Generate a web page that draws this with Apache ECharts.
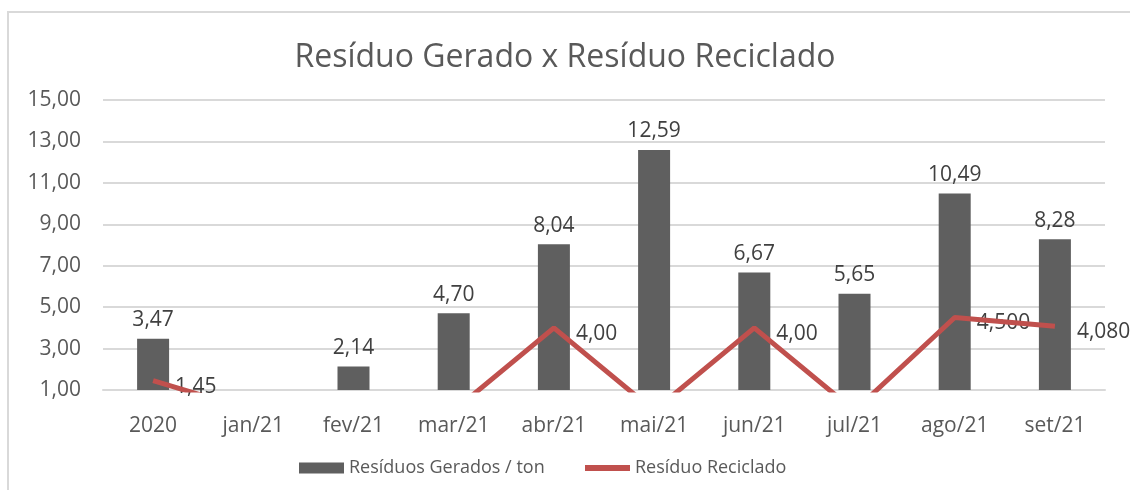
<!DOCTYPE html>
<html>
<head>
<meta charset="utf-8">
<script src="https://cdn.jsdelivr.net/npm/echarts@6/dist/echarts.min.js"></script>
<style>
  html, body { margin: 0; padding: 0; background: #fff; }
  #chart { width: 1130px; height: 490px; }
</style>
</head>
<body>
<div id="chart"></div>
<script>
// categorias (eixo x)
const categories = ['2020', 'jan/21', 'fev/21', 'mar/21', 'abr/21', 'mai/21', 'jun/21', 'jul/21', 'ago/21', 'set/21'];
// resíduos gerados (ton)
const gerados = [3.47, 0.85, 2.14, 4.70, 8.04, 12.59, 6.67, 5.65, 10.49, 8.28];
const geradosLabels = ['3,47', '', '2,14', '4,70', '8,04', '12,59', '6,67', '5,65', '10,49', '8,28'];
// resíduo reciclado
const reciclado = [1.45, 0, 0, 0, 4.00, 0, 4.00, 0, 4.50, 4.08];
const recicladoLabels = ['1,45', '', '', '', '4,00', '', '4,00', '', '4,500', '4,080'];
// eixo y
const yMin = 1, yMax = 15, yStep = 2;

const FONT = '"Open Sans", "Noto Sans", sans-serif';
const GRAY = '#5f5f5f';
const RED = '#c0504d';
const chart = echarts.init(document.getElementById('chart'));

const legendText = { fontFamily: FONT, fontSize: 18, color: '#595959' };

const option = {
  animation: false,
  backgroundColor: '#fff',
  textStyle: { fontFamily: FONT },
  title: {
    text: 'Resíduo Gerado x Resíduo Reciclado',
    left: 'center',
    top: 37,
    textStyle: { fontFamily: FONT, fontSize: 32, fontWeight: 'normal', color: '#595959' }
  },
  graphic: [{
    type: 'rect',
    silent: true,
    shape: { x: 8, y: 12, width: 1200, height: 600 },
    style: { fill: 'none', stroke: '#d9d9d9', lineWidth: 2 }
  }],
  // duas legendas para ter ícones de tamanhos diferentes
  legend: [
    {
      left: 294,
      top: 454,
      itemWidth: 45,
      itemHeight: 11,
      itemGap: 5,
      textStyle: legendText,
      data: [{ name: 'Resíduos Gerados / ton', icon: 'rect' }]
    },
    {
      left: 580,
      top: 454,
      itemWidth: 45,
      itemHeight: 6,
      textStyle: legendText,
      data: [{ name: 'Resíduo Reciclado', icon: 'rect', itemStyle: { color: RED } }]
    }
  ],
  grid: { left: 103, right: 25, top: 100, bottom: 100 },
  xAxis: {
    type: 'category',
    data: categories,
    axisLine: { show: true, lineStyle: { color: '#d9d9d9', width: 2 } },
    axisTick: { show: false },
    axisLabel: { margin: 26, fontFamily: FONT, fontSize: 21, color: '#595959' }
  },
  yAxis: {
    type: 'value',
    min: yMin,
    max: yMax,
    interval: yStep,
    axisLine: { show: false },
    axisTick: { show: false },
    splitLine: { lineStyle: { color: '#d9d9d9', width: 2 } },
    axisLabel: {
      margin: 22,
      fontFamily: FONT,
      fontSize: 21,
      color: '#595959',
      formatter: v => v.toFixed(2).replace('.', ',')
    }
  },
  series: [
    {
      name: 'Resíduos Gerados / ton',
      type: 'bar',
      data: gerados,
      barWidth: 32,
      itemStyle: { color: GRAY },
      label: {
        show: true,
        position: 'top',
        distance: 8,
        fontFamily: FONT,
        fontSize: 21,
        color: '#404040',
        formatter: p => geradosLabels[p.dataIndex]
      }
    },
    {
      name: 'Resíduo Reciclado',
      type: 'line',
      data: reciclado,
      symbol: 'none',
      clip: true,
      lineStyle: { color: RED, width: 5 },
      itemStyle: { color: RED }
    },
    {
      // rótulos da linha
      name: 'rotulos',
      type: 'scatter',
      data: reciclado,
      symbolSize: 0,
      silent: true,
      itemStyle: { opacity: 1, color: 'transparent' },
      label: {
        show: true,
        position: 'right',
        distance: 22,
        offset: [0, 6],
        opacity: 1,
        fontFamily: FONT,
        fontSize: 21,
        color: '#404040',
        formatter: p => recicladoLabels[p.dataIndex]
      }
    }
  ]
};

chart.setOption(option);
</script>
</body>
</html>
